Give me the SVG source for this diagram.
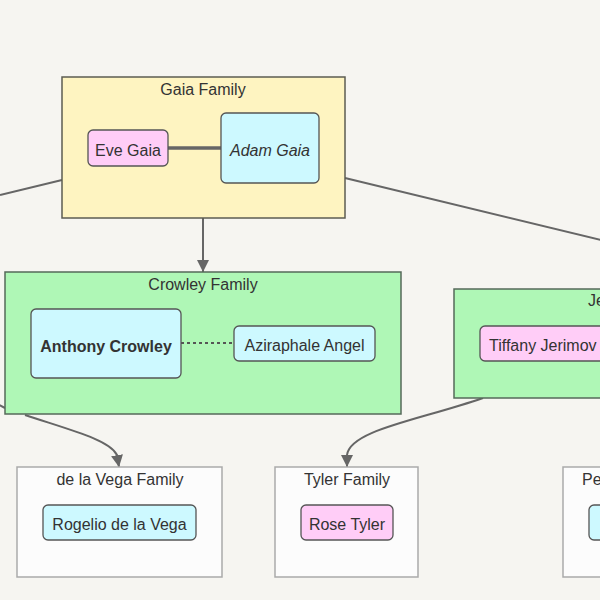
<svg xmlns="http://www.w3.org/2000/svg" width="600" height="600" viewBox="0 0 600 600">
<defs>
<style>
text{font-family:"Liberation Sans",Arial,sans-serif;font-size:16px;fill:#333;}
.t{text-anchor:middle;}
.cy{fill:#fef4c1;stroke:#5c5c52;stroke-width:1.5;}
.cg{fill:#aff7b6;stroke:#56695a;stroke-width:1.5;}
.cw{fill:#fcfcfc;stroke:#aaa;stroke-width:1.5;}
.np{fill:#ffcdf7;stroke:#555;stroke-width:1.3;}
.nc{fill:#cdf9ff;stroke:#555;stroke-width:1.3;}
.e{fill:none;stroke:#666;stroke-width:2;}
</style>
<marker id="ah" viewBox="0 0 12 12" refX="12" refY="6" markerWidth="12" markerHeight="12" markerUnits="userSpaceOnUse" orient="auto">
<path d="M0,0 L12,6 L0,12 z" fill="#666"/>
</marker>
</defs>
<rect width="600" height="600" fill="#f6f5f1"/>

<g id="edges-under">
<path class="e" d="M-40,385 L5,408"/>
<path class="e" d="M25,415 C70,430 110,440 117,455 L119,467" marker-end="url(#ah)"/>
<path class="e" d="M483,398 C420,420 350,430 347,455 L347,467" marker-end="url(#ah)"/>
<path class="e" d="M0,195 L62,180"/>
<path class="e" d="M345,178 L605,241"/>
<path class="e" d="M203,218 L203,272" marker-end="url(#ah)"/>
</g>

<g id="gaia-family">
<rect class="cy" x="62" y="77" width="283" height="141"/>
<text class="t" x="203" y="95">Gaia Family</text>
</g>
<g id="crowley-family">
<rect class="cg" x="5" y="272" width="396" height="142"/>
<text class="t" x="203" y="290">Crowley Family</text>
</g>
<g id="jerimov-family">
<rect class="cg" x="454" y="289" width="180" height="109"/>
<text x="588" y="306">Je</text>
</g>
<g id="delavega-family">
<rect class="cw" x="17" y="467" width="205" height="110"/>
<text class="t" x="120" y="485">de la Vega Family</text>
</g>
<g id="tyler-family">
<rect class="cw" x="275" y="467" width="143" height="110"/>
<text class="t" x="347" y="485">Tyler Family</text>
</g>
<g id="pe-family">
<rect class="cw" x="563" y="467" width="80" height="110"/>
<text x="582" y="485">Pe</text>
</g>

<g id="edges">
<path d="M168,148 L221,148" fill="none" stroke="#666" stroke-width="3.5"/>
<path d="M181,343 L234,343" fill="none" stroke="#555" stroke-width="2" stroke-dasharray="3,3"/>
</g>

<g id="eve-gaia">
<rect class="np" x="88" y="130" width="80" height="36" rx="5"/>
<text class="t" x="128" y="156">Eve Gaia</text>
</g>
<g id="adam-gaia">
<rect class="nc" x="221" y="113" width="98" height="70" rx="5"/>
<text class="t" x="270" y="156" font-style="italic">Adam Gaia</text>
</g>
<g id="anthony-crowley">
<rect class="nc" x="31" y="309" width="150" height="69" rx="5"/>
<text class="t" x="106" y="352" font-weight="bold">Anthony Crowley</text>
</g>
<g id="aziraphale-angel">
<rect class="nc" x="234" y="326" width="141" height="35" rx="5"/>
<text class="t" x="304.5" y="351">Aziraphale Angel</text>
</g>
<g id="tiffany-jerimov">
<rect class="np" x="480" y="326" width="160" height="35" rx="5"/>
<text x="489" y="351">Tiffany Jerimov</text>
</g>
<g id="rogelio-de-la-vega">
<rect class="nc" x="43" y="505" width="153" height="35" rx="5"/>
<text class="t" x="119.5" y="530">Rogelio de la Vega</text>
</g>
<g id="rose-tyler">
<rect class="np" x="301" y="505" width="92" height="35" rx="5"/>
<text class="t" x="347" y="530">Rose Tyler</text>
</g>
<g id="pe-node">
<rect class="nc" x="589" y="505" width="60" height="35" rx="5"/>
</g>
</svg>
